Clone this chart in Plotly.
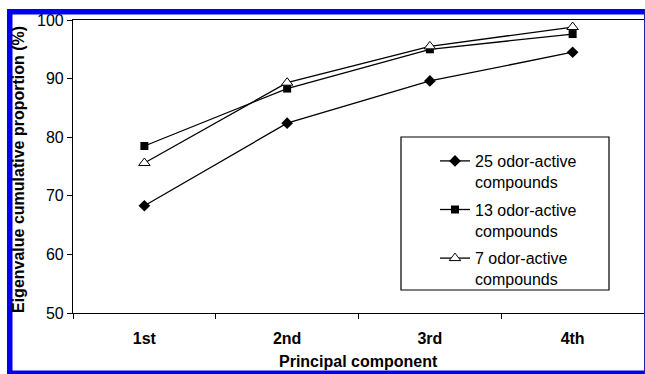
import plotly.graph_objects as go

# ---- data ----
components = ["1st", "2nd", "3rd", "4th"]
series_names = ["25 odor-active<br>compounds", "13 odor-active<br>compounds", "7 odor-active<br>compounds"]
vals_25 = [68.3, 82.4, 89.6, 94.5]
vals_13 = [78.5, 88.3, 95.0, 97.6]
vals_7 = [75.6, 89.3, 95.5, 98.8]
y_ticks = [50, 60, 70, 80, 90, 100]

W, H = 645, 374
# plot area in page pixels: x 73..644, y 20..313
PL, PR, PT, PB = 73, 644, 20, 313
ML, MR, MT, MB = PL, W - PR, PT, H - PB
PW, PH = PR - PL, PB - PT

def px_x(p):  # page pixel -> paper x
    return (p - PL) / PW

def px_y(p):  # page pixel -> paper y
    return (PB - p) / PH

FONT = "Liberation Sans, Arial, Helvetica, sans-serif"

fig = go.Figure()
styles = [
    (vals_25, series_names[0], dict(symbol="diamond", size=9, color="black")),
    (vals_13, series_names[1], dict(symbol="square", size=8, color="black")),
    (vals_7, series_names[2], dict(symbol="triangle-up", size=10, color="white",
                                    line=dict(color="black", width=1))),
]
for i, (vals, name, mk) in enumerate(styles):
    fig.add_trace(go.Scatter(
        x=components, y=vals, name=name, mode="lines+markers",
        line=dict(color="black", width=1.3), marker=mk,
        legendgroup=f"g{i}",
    ))

fig.update_layout(
    width=W, height=H,
    margin=dict(l=ML, r=MR, t=MT, b=MB, autoexpand=False),
    paper_bgcolor="white", plot_bgcolor="white",
    font=dict(family=FONT, color="black", size=16),
    showlegend=True,
    legend=dict(
        x=px_x(435), y=px_y(144), xanchor="left", yanchor="top",
        bgcolor="rgba(0,0,0,0)", borderwidth=0,
        font=dict(size=16, family=FONT), valign="top",
        tracegroupgap=4, itemwidth=30,
    ),
    xaxis=dict(
        type="category", showline=True, linecolor="black", linewidth=1.2,
        mirror=True, ticks="outside", ticklen=5, tickcolor="black",
        tickson="boundaries", showgrid=False, zeroline=False,
        tickfont=dict(size=16, family=FONT, weight="bold"),
        ticklabelstandoff=11,
        range=[-0.5, 3.5],
    ),
    yaxis=dict(
        range=[50, 100], tickvals=y_ticks, showline=True, linecolor="black",
        linewidth=1.2, ticks="outside", ticklen=5, tickcolor="black",
        showgrid=False, zeroline=False, tickfont=dict(size=16, family=FONT),
    ),
    annotations=[
        dict(text="<b>Eigenvalue cumulative proportion (%)</b>", xref="paper", yref="paper",
             x=px_x(18), y=px_y(170), textangle=-90, showarrow=False,
             xanchor="center", yanchor="middle", font=dict(size=16, family=FONT)),
        dict(text="<b>Principal component</b>", xref="paper", yref="paper",
             x=0.5, y=px_y(361), showarrow=False,
             xanchor="center", yanchor="middle", font=dict(size=16, family=FONT)),
    ],
)

blue = "#0000f0"
shapes = [
    # legend frame
    dict(type="rect", xref="paper", yref="paper", x0=px_x(401), x1=px_x(609),
         y0=px_y(290), y1=px_y(137), fillcolor="white",
         line=dict(color="black", width=1.2), layer="above"),
    # outer blue frame
    dict(type="rect", xref="paper", yref="paper", x0=px_x(7), x1=px_x(12.5),
         y0=px_y(9), y1=px_y(374), fillcolor=blue, line=dict(width=0), layer="above"),
    dict(type="rect", xref="paper", yref="paper", x0=px_x(7), x1=px_x(645),
         y0=px_y(9), y1=px_y(14.5), fillcolor=blue, line=dict(width=0), layer="above"),
    dict(type="rect", xref="paper", yref="paper", x0=px_x(7), x1=px_x(645),
         y0=px_y(370.5), y1=px_y(374), fillcolor=blue, line=dict(width=0), layer="above"),
    dict(type="line", xref="paper", yref="paper", x0=px_x(644.5), x1=px_x(644.5),
         y0=px_y(9), y1=px_y(374), line=dict(color="#2020a0", width=1), layer="above"),
]
fig.update_layout(shapes=shapes)

fig.write_html(
    "out.html",
    config={"displayModeBar": False},
    post_script="document.body.style.margin='0px';"
                "document.documentElement.style.overflow='hidden';",
)
